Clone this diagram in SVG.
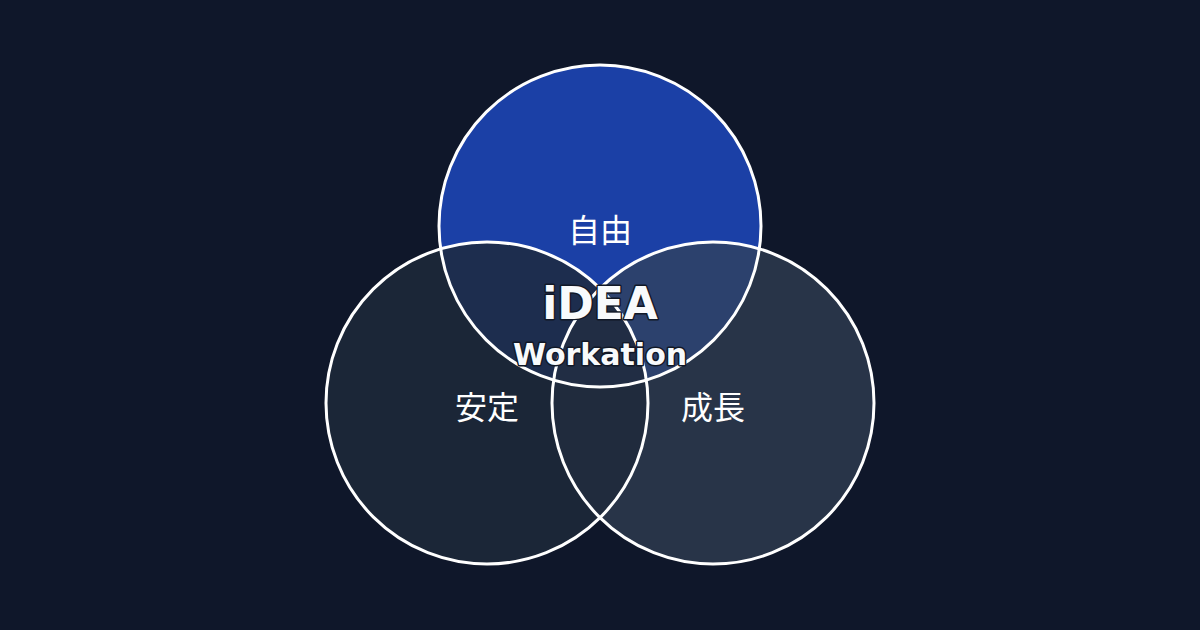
<svg xmlns="http://www.w3.org/2000/svg" width="1200" height="630" viewBox="0 0 1200 630">
<style>
.ring{fill:none;stroke:#ffffff;stroke-width:3}
.jp{font-family:"Noto Sans CJK JP","Noto Sans",sans-serif;font-size:32px;fill:#ffffff;text-anchor:middle}
.en{font-family:"DejaVu Sans","Open Sans",sans-serif;font-weight:bold;fill:#f8fafc;text-anchor:middle;stroke:#111827;stroke-width:3;paint-order:stroke;stroke-linejoin:round}
</style>
<rect width="1200" height="630" fill="#0f172a"/>
<g id="node-jiyu">
<circle cx="600" cy="226" r="161" fill="#1b40a6"/>
</g>
<g id="node-seicho">
<circle cx="713" cy="403" r="161" fill="#334155" fill-opacity="0.7"/>
</g>
<g id="node-antei">
<circle cx="487" cy="403" r="161" fill="#1e293b" fill-opacity="0.82"/>
</g>
<g id="outlines">
<circle class="ring" cx="600" cy="226" r="161"/>
<circle class="ring" cx="713" cy="403" r="161"/>
<circle class="ring" cx="487" cy="403" r="161"/>
</g>
<g id="labels">
<text class="jp" x="600" y="242">自由</text>
<text class="jp" x="487" y="419">安定</text>
<text class="jp" x="713" y="419">成長</text>
<text class="en" x="600" y="319" font-size="44">iDEA</text>
<text class="en" x="600" y="365" font-size="30">Workation</text>
</g>
</svg>
